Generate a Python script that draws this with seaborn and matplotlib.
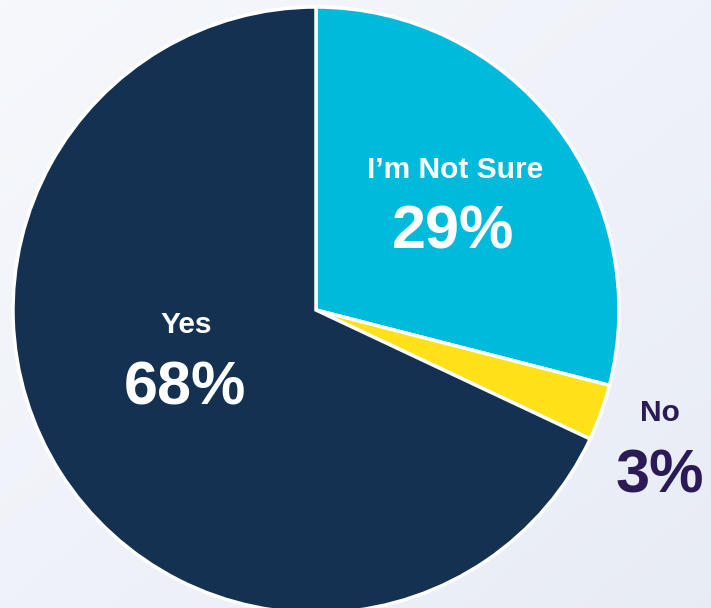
import numpy as np
import matplotlib
matplotlib.use("Agg")
import matplotlib.pyplot as plt
import seaborn as sns

categories = ["I\u2019m Not Sure", "No", "Yes"]
values = [29, 3, 68]
colors = ["#00badb", "#ffe11a", "#143152"]

sns.set_style("white")
plt.rcParams['font.family'] = ['Liberation Sans', 'DejaVu Sans']

fig = plt.figure(figsize=(7.11, 6.08), dpi=100)
# background gradient
bg = fig.add_axes([0, 0, 1, 1])
gx = np.linspace(0, 1, 256)
gy = np.linspace(0, 1, 256)
X, Y = np.meshgrid(gx, gy)
t = 0.5 * X + 0.5 * Y
c1 = np.array([0.965, 0.973, 0.988])
c2 = np.array([0.910, 0.925, 0.960])
img = c1[None, None, :] * (1 - t[..., None]) + c2[None, None, :] * t[..., None]
bg.imshow(img, aspect="auto", extent=[0, 1, 0, 1], origin="upper")
bg.set_axis_off()

ax = fig.add_axes([0, 0, 1, 1])
ax.set_facecolor("none")
ax.pie(values, colors=colors, startangle=90, counterclock=False, radius=1.0,
       wedgeprops=dict(edgecolor="white", linewidth=2.5))
ax.set_xlim(-316 / 303, 395 / 303)
ax.set_ylim(-298 / 303, 310 / 303)
ax.set_aspect("equal")
ax.set_axis_off()

label_pos = {
    "I\u2019m Not Sure": ((0.459, 0.462), (0.452, 0.255), "white"),
    "No": ((1.135, -0.340), (1.135, -0.550), "#2b1a55"),
    "Yes": ((-0.429, -0.050), (-0.432, -0.260), "white"),
}
for cat, val in zip(categories, values):
    (lx, ly), (px, py), col = label_pos[cat]
    ax.text(lx, ly, cat, ha="center", va="center", fontsize=21.5,
            fontweight="bold", color=col)
    ax.text(px, py, f"{val}%", ha="center", va="center", fontsize=44,
            fontweight="bold", color=col)

fig.savefig("out.png", dpi=100)
